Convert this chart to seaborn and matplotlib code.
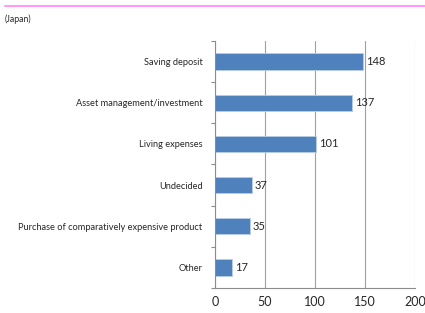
import matplotlib
matplotlib.use('Agg')
import matplotlib.pyplot as plt
import seaborn as sns
import pandas as pd
from matplotlib.lines import Line2D

categories = ['Saving deposit', 'Asset management/investment', 'Living expenses',
              'Undecided', 'Purchase of comparatively expensive product', 'Other']
values = [148, 137, 101, 37, 35, 17]
xticks = [0, 50, 100, 150, 200]

df = pd.DataFrame({'use': categories, 'count': values})

sns.set_style('white')
plt.rcParams['font.family'] = ['Lato', 'DejaVu Sans']

fig = plt.figure(figsize=(4.25, 3.13), dpi=100)
ax = fig.add_axes([0.506, 0.080, 0.470, 0.789])

sns.barplot(data=df, x='count', y='use', orient='h', color='#4F81BD',
            saturation=1, width=0.4, edgecolor='#B9CDE5', linewidth=0.6, ax=ax)

ax.set_xlim(0, 200)
ax.set_ylim(len(categories) - 0.5, -0.5)
ax.set_xticks(xticks)
ax.set_xticklabels([str(t) for t in xticks], fontsize=9)
ax.set_xlabel('')
ax.set_ylabel('')
ax.tick_params(axis='y', labelsize=6.7, length=0, pad=9)
ax.tick_params(axis='x', length=0, pad=6)
ax.xaxis.grid(True, color='#A0A0A0', linewidth=0.8)
ax.set_axisbelow(True)

for s in ['top', 'right']:
    ax.spines[s].set_visible(False)
for s in ['left', 'bottom']:
    ax.spines[s].set_color('#8C8C8C')
    ax.spines[s].set_linewidth(0.8)

# category boundary ticks on the left axis
ax.set_yticks([i - 0.5 for i in range(len(categories) + 1)], minor=True)
ax.tick_params(axis='y', which='minor', left=True, length=3, color='#8C8C8C',
               width=0.8, direction='out')

for i, v in enumerate(values):
    ax.text(v + 3, i, str(v), va='center', ha='left', fontsize=8)

fig.add_artist(Line2D([0.012, 1.0], [0.981, 0.981], color='#FF99FF', linewidth=1.5))
fig.text(0.012, 0.938, '(Japan)', fontsize=6.3, ha='left', va='center')

fig.savefig('out.png', dpi=100)
